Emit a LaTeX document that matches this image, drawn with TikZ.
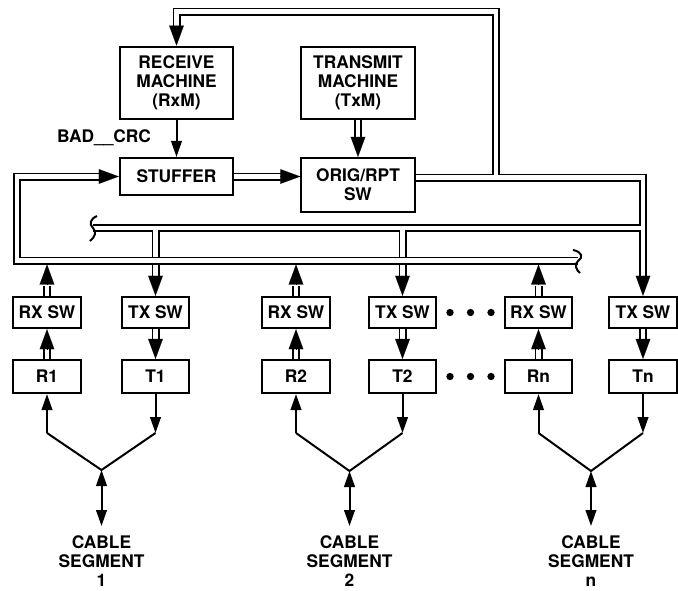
\documentclass[tikz,border=0pt]{standalone}
\usepackage{fontspec}
\setmainfont{TeX Gyre Heros}
\usetikzlibrary{arrows.meta,calc}
\begin{document}
\begin{tikzpicture}[x=0.75pt,y=-0.75pt,
  every node/.style={font=\fontsize{13pt}{14.3pt}\selectfont\bfseries, align=center, inner sep=0pt},
  blk/.style={draw, line width=1.6pt, minimum width=#1},
  bigbox/.style={blk=85pt, minimum height=54.5pt},
  swbox/.style={blk=50.5pt, minimum height=23.5pt},
  rtbox/.style={blk=50.5pt, minimum height=24.75pt},
  pipe/.style={line width=1.3pt, double, double distance=3.4pt},
  ptip/.style={-{Triangle[length=15pt,width=11pt]}, line width=0.1pt},
  stip/.style={-{Triangle[length=12pt,width=8pt]}, line width=1.5pt},
  dstip/.style={{Triangle[length=12pt,width=8pt]}-{Triangle[length=12pt,width=8pt]}, line width=1.5pt},
  sline/.style={line width=1.5pt},
  dotm/.style={circle, fill, minimum size=5.5pt},
]
\useasboundingbox (0,0) rectangle (678,590);

% upper blocks
\node[bigbox] (rxm) at (176.5,83) {RECEIVE\\MACHINE\\(RxM)};
\node[bigbox] (txm) at (358,83) {TRANSMIT\\MACHINE\\(TxM)};
\node[blk=85pt, minimum height=27.75pt] (stuf) at (176.5,176.5) {STUFFER};
\node[blk=85pt, minimum height=40.5pt] (orig) at (358,185) {ORIG/RPT\\SW};
\node (bad) at (104,138) {BAD\_\_CRC};

% switch row
\node[swbox] (rxsw1) at (47,312.5) {RX SW};
\node[swbox] (txsw1) at (155.5,312.5) {TX SW};
\node[swbox] (rxsw2) at (296,312.5) {RX SW};
\node[swbox] (txsw2) at (402.5,312.5) {TX SW};
\node[swbox] (rxswn) at (538.5,312.5) {RX SW};
\node[swbox] (txswn) at (643,312.5) {TX SW};

% R/T row
\node[rtbox] (r1) at (47,376.5) {R1};
\node[rtbox] (t1) at (155.5,376.5) {T1};
\node[rtbox] (r2) at (296,376.5) {R2};
\node[rtbox] (t2) at (402.5,376.5) {T2};
\node[rtbox] (rn) at (538.5,376.5) {Rn};
\node[rtbox] (tn) at (643,376.5) {Tn};

% dots
\node[dotm] (d1) at (450,312.5) {};
\node[dotm] (d2) at (470.5,312.5) {};
\node[dotm] (d3) at (491,312.5) {};
\node[dotm] (d4) at (450,376.5) {};
\node[dotm] (d5) at (470.5,376.5) {};
\node[dotm] (d6) at (491,376.5) {};

% coordinates
\coordinate (fbC) at (643,177.5);
\coordinate (fbUp) at (496,177.5);
\coordinate (fbTop) at (496,11.5);
\coordinate (txbusL) at (93,228);
\coordinate (txbusR) at (643,228);
\coordinate (rxloopT) at (17,176.5);
\coordinate (rxbusL) at (17,260.5);
\coordinate (rxbusR) at (578,260.5);
\coordinate (rxbot) at (0,264.5);

% RxM -> STUFFER
\draw[stip] (rxm.south) -- (stuf.north);

% TxM -> ORIG
\draw[pipe] (txm.south) -- ($(orig.north)+(0,-19)$);
\draw[ptip] ($(orig.north)+(0,-20)$) -- (orig.north);

% STUFFER -> ORIG
\draw[pipe] (stuf.east) -- ($(orig.west |- stuf.east)+(-19,0)$);
\draw[ptip] ($(orig.west |- stuf.east)+(-20,0)$) -- (orig.west |- stuf.east);

% transmit network (feedback, tx bus, taps)
\draw[pipe] (orig.east |- fbC) -- (fbC) -- ($(txswn.north)+(0,-19)$)
  (fbUp) -- (fbTop) -- (rxm.north |- fbTop) -- ($(rxm.north)+(0,-19)$)
  (txbusL) -- (txbusR)
  (txsw1.north |- txbusL) -- ($(txsw1.north)+(0,-19)$)
  (txsw2.north |- txbusL) -- ($(txsw2.north)+(0,-19)$);
\draw[ptip] ($(txswn.north)+(0,-20)$) -- (txswn.north);
\draw[ptip] ($(rxm.north)+(0,-20)$) -- (rxm.north);
\draw[ptip] ($(txsw1.north)+(0,-20)$) -- (txsw1.north);
\draw[ptip] ($(txsw2.north)+(0,-20)$) -- (txsw2.north);

% receive network (loop into stuffer, rx bus)
\draw[pipe] ($(stuf.west)+(-19,0)$) -- (rxloopT) -- (rxbusL) -- (rxbusR);
\draw[ptip] ($(stuf.west)+(-20,0)$) -- (stuf.west);

% break marks
\draw[sline] (97,216) .. controls (90,219) and (89,224) .. (93,228) .. controls (97,232) and (95,237) .. (90,241);
\draw[sline] (573,250) .. controls (583,252) and (583,258) .. (578,261) .. controls (574,264) and (576,270) .. (580,273);

% RX SW -> rx bus
\foreach \s in {rxsw1,rxsw2,rxswn}{
  \draw[pipe] (\s.north) -- ($(\s.north |- rxbot)+(0,21)$);
  \draw[ptip] ($(\s.north |- rxbot)+(0,20)$) -- (\s.north |- rxbot);
}
% R -> RX SW
\foreach \r/\s in {r1/rxsw1,r2/rxsw2,rn/rxswn}{
  \draw[pipe] (\r.north) -- ($(\s.south)+(0,19)$);
  \draw[ptip] ($(\s.south)+(0,20)$) -- (\s.south);
}
% TX SW -> T
\foreach \s/\t in {txsw1/t1,txsw2/t2,txswn/tn}{
  \draw[pipe] (\s.south) -- ($(\t.north)+(0,-19)$);
  \draw[ptip] ($(\t.north)+(0,-20)$) -- (\t.north);
}

% cable segments
\coordinate (kn) at (0,433);
\coordinate (cb) at (0,526);
\coordinate (j1) at (101.5,470);
\coordinate (j2) at (349.5,471);
\coordinate (jn) at (591,471);
\foreach \r/\t/\j in {r1/t1/j1,r2/t2/j2,rn/tn/jn}{
  \draw[stip] (\r.south |- kn) -- (\r.south);
  \draw[stip] (\t.south) -- (\t.south |- kn);
  \draw[sline] (\r.south |- kn) -- (\j) -- (\t.south |- kn);
  \draw[dstip] (\j) -- (\j |- cb);
}
\node (cs1) at (101.5,561) {CABLE\\SEGMENT\\1};
\node (cs2) at (349.5,561) {CABLE\\SEGMENT\\2};
\node (csn) at (591,561) {CABLE\\SEGMENT\\n};
\end{tikzpicture}
\end{document}
